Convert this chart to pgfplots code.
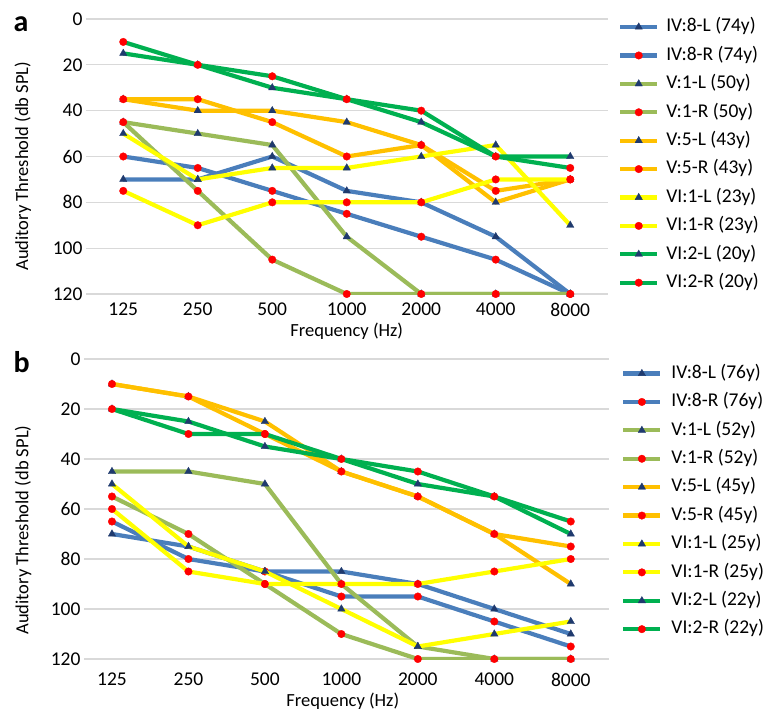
\documentclass[border=0pt]{standalone}
\usepackage{pgfplots}
\pgfplotsset{compat=1.18}
\usepackage{pgfplotstable}
\usepackage{fontspec}
\setmainfont{Carlito}

\definecolor{cblue}{HTML}{4A7EBB}
\definecolor{colive}{HTML}{9BBB59}
\definecolor{corange}{HTML}{FFC000}
\definecolor{cyellow}{HTML}{FFFF00}
\definecolor{cgreen}{HTML}{00B050}
\definecolor{mnavy}{HTML}{1F3A6E}
\definecolor{mred}{HTML}{FF0000}

% thresholds (dB SPL), x = 125,250,...,8000 Hz as 0..6
\pgfplotstableread{
x IVeL IVeR VaL VaR VeL VeR VIaL VIaR VIbL VIbR
0  70  60  45  45  35  35  50  75  15  10
1  70  65  50  75  40  35  70  90  20  20
2  60  75  55 105  40  45  65  80  30  25
3  75  85  95 120  45  60  65  80  35  35
4  80  95 120 120  55  55  60  80  45  40
5  95 105 120 120  80  75  55  70  60  60
6 120 120 120 120  70  70  90  70  60  65
}\tabA

\pgfplotstableread{
x IVeL IVeR VaL VaR VeL VeR VIaL VIaR VIbL VIbR
0  70  65  45  55  10  10  50  60  20  20
1  75  80  45  70  15  15  75  85  25  30
2  85  85  50  90  25  30  85  90  35  30
3  85  95  90 110  45  45 100  90  40  40
4  90  95 115 120  55  55 115  90  50  45
5 100 105 120 120  70  70 110  85  55  55
6 110 115 120 120  90  75 105  80  70  65
}\tabB

\pgfplotsset{
  audio/.style={
    scale only axis,
    ymin=0, ymax=120, y dir=reverse,
    axis line style={draw=none},
    major tick length=0pt,
    ymajorgrids,
    grid style={color=black!15, line width=1.3pt},
    xtick={0,...,6},
    xticklabels={125,250,500,1000,2000,4000,8000},
    ytick={0,20,...,120},
    ticklabel style={font=\fontsize{19.5}{22}\selectfont},
    label style={font=\fontsize{18.5}{22}\selectfont},
    /pgf/number format/assume math mode=true,
    clip mode=individual,
    legend cell align=left,
    legend style={draw=none, fill=none, inner sep=0pt, anchor=north west,
      font=\fontsize{19.5}{22}\selectfont,
      nodes={inner sep=0pt, text height=14pt, text depth=4.5pt},
      row sep=9.9pt},
    legend image code/.code={
      \draw[mark repeat=2,mark phase=2] plot coordinates {(0pt,0pt)(18.5pt,0pt)(37pt,0pt)};},
    every axis plot/.append style={line width=4.2pt},
  },
  sL/.style={color=#1, mark=triangle*, mark size=4.3pt,
    mark options={solid, fill=mnavy, draw=mnavy, line width=0.3pt}},
  sR/.style={color=#1, mark=*, mark size=3.8pt,
    mark options={solid, fill=mred, draw=mred, line width=0.3pt}},
}

\begin{document}
\begin{tikzpicture}
\useasboundingbox (0pt,0pt) rectangle (766pt,-714pt);

\begin{axis}[audio,
    at={(86pt,-19pt)}, anchor=north west,
    width=521.5pt, height=275pt,
    xmin=-0.5, xmax=6.5,
    xticklabel style={yshift=-5.3pt},
    xlabel={Frequency (Hz)},
    xlabel style={at={(axis description cs:0.5,-0.1345)}, anchor=center},
    ylabel={Auditory Threshold (db SPL)},
    ylabel style={at={(axis description cs:-0.121,0.465)}, anchor=center},
    legend style={at={(axis description cs:1.02,1.005)},
      /tikz/every odd column/.append style={column sep=7pt}},
  ]
\addplot[sL=cblue]   table[x=x, y=IVeL] {\tabA};
\addplot[sR=cblue]   table[x=x, y=IVeR] {\tabA};
\addplot[sL=colive]  table[x=x, y=VaL]  {\tabA};
\addplot[sR=colive]  table[x=x, y=VaR]  {\tabA};
\addplot[sL=corange] table[x=x, y=VeL]  {\tabA};
\addplot[sR=corange] table[x=x, y=VeR]  {\tabA};
\addplot[sL=cyellow] table[x=x, y=VIaL] {\tabA};
\addplot[sR=cyellow] table[x=x, y=VIaR] {\tabA};
\addplot[sL=cgreen]  table[x=x, y=VIbL] {\tabA};
\addplot[sR=cgreen]  table[x=x, y=VIbR] {\tabA};
\legend{IV:8-L (74y), IV:8-R (74y), V:1-L (50y), V:1-R (50y), V:5-L (43y),
  V:5-R (43y), VI:1-L (23y), VI:1-R (23y), VI:2-L (20y), VI:2-R (20y)}
\end{axis}

\begin{axis}[audio,
    at={(84pt,-359pt)}, anchor=north west,
    width=525pt, height=300pt,
    xmin=-0.366, xmax=6.5,
    xticklabel style={yshift=-10.3pt},
    xlabel={Frequency (Hz)},
    xlabel style={at={(axis description cs:0.493,-0.141)}, anchor=center},
    ylabel={Auditory Threshold (db SPL)},
    ylabel style={at={(axis description cs:-0.116,0.43)}, anchor=center},
    legend style={at={(axis description cs:1.023,0.983)},
      /tikz/every odd column/.append style={column sep=9pt}},
  ]
\addplot[sL=cblue]   table[x=x, y=IVeL] {\tabB};
\addplot[sR=cblue]   table[x=x, y=IVeR] {\tabB};
\addplot[sL=colive]  table[x=x, y=VaL]  {\tabB};
\addplot[sR=colive]  table[x=x, y=VaR]  {\tabB};
\addplot[sL=corange] table[x=x, y=VeL]  {\tabB};
\addplot[sR=corange] table[x=x, y=VeR]  {\tabB};
\addplot[sL=cyellow] table[x=x, y=VIaL] {\tabB};
\addplot[sR=cyellow] table[x=x, y=VIaR] {\tabB};
\addplot[sL=cgreen]  table[x=x, y=VIbL] {\tabB};
\addplot[sR=cgreen]  table[x=x, y=VIbR] {\tabB};
\legend{IV:8-L (76y), IV:8-R (76y), V:1-L (52y), V:1-R (52y), V:5-L (45y),
  V:5-R (45y), VI:1-L (25y), VI:1-R (25y), VI:2-L (22y), VI:2-R (22y)}
\end{axis}

\node[anchor=base west, font=\bfseries\fontsize{30}{34}\selectfont] at (10pt,-32pt) {a};
\node[anchor=base west, font=\bfseries\fontsize{30}{34}\selectfont] at (10pt,-372pt) {b};
\end{tikzpicture}
\end{document}
